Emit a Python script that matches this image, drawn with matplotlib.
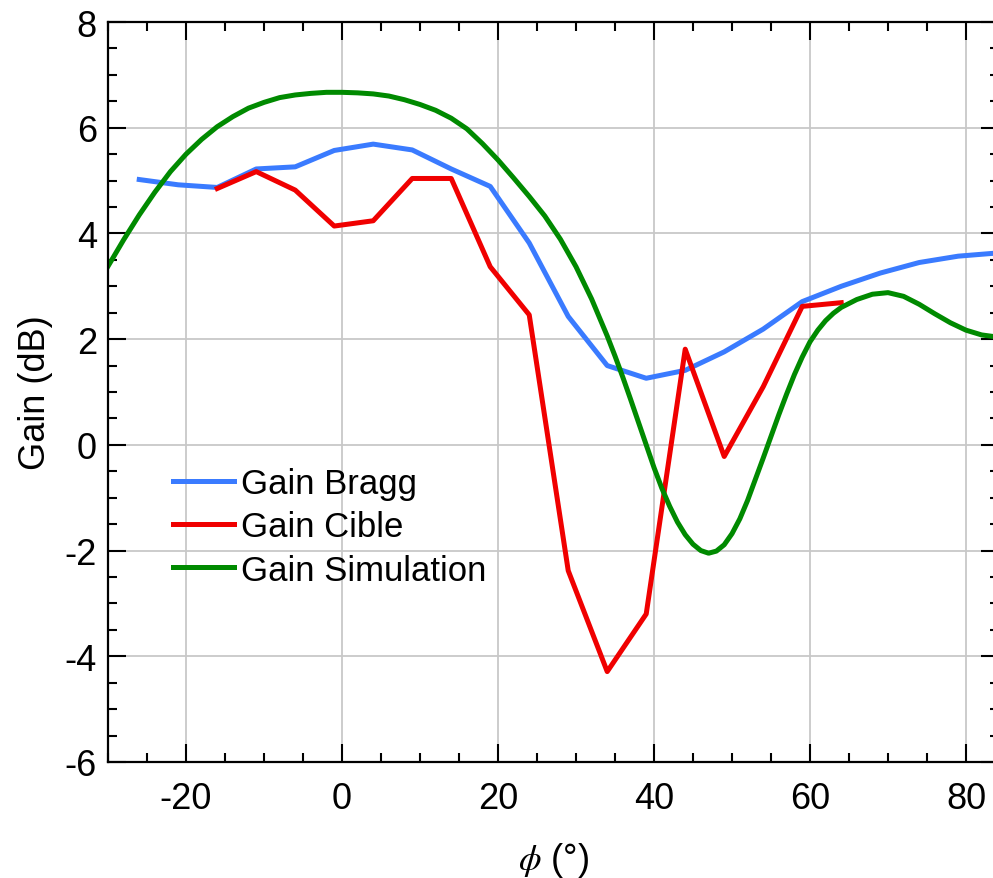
"""Gain vs angle phi: Bragg / Cible (mesure) et simulation."""

import matplotlib
matplotlib.use("Agg")
import matplotlib.pyplot as plt
from matplotlib.ticker import MultipleLocator

plt.rcParams["font.family"] = ["Liberation Sans", "DejaVu Sans"]
plt.rcParams["mathtext.fontset"] = "stix"
plt.rcParams["axes.unicode_minus"] = False  # "-20" avec un tiret simple

# ── données ──────────────────────────────────────────────────────────────────

phi_bragg = [-26, -21, -16, -11, -6, -1, 4, 9, 14, 19, 24, 29, 34, 39, 44,
             49, 54, 59, 64, 69, 74, 79, 84]
gain_bragg = [5.02, 4.92, 4.87, 5.22, 5.26, 5.57, 5.69, 5.58, 5.22, 4.89, 3.82,
              2.43, 1.50, 1.26, 1.41, 1.76, 2.19, 2.71, 3.00, 3.25, 3.45, 3.57,
              3.63]

phi_cible = [-16, -11, -6, -1, 4, 9, 14, 19, 24, 29, 34, 39, 44, 49, 54, 59, 64]
gain_cible = [4.85, 5.17, 4.82, 4.14, 4.24, 5.04, 5.04, 3.37, 2.46, -2.38, -4.29,
              -3.20, 1.81, -0.22, 1.10, 2.62, 2.69]

phi_sim = [-30, -28, -26, -24, -22, -20, -18, -16, -14, -12, -10, -8, -6, -4,
           -2, 0, 2, 4, 6, 8, 10, 12, 14, 16, 18, 20, 22, 24, 26, 28, 30, 32,
           34, 35, 36, 37, 38, 39, 40, 41, 42, 43, 44, 45, 46, 47, 48, 49, 50,
           51, 52, 53, 54, 55, 56, 57, 58, 59, 60, 61, 62, 63, 64, 66, 68, 70,
           72, 74, 76, 78, 80, 82, 84]
gain_sim = [3.38, 3.88, 4.35, 4.78, 5.17, 5.50, 5.78, 6.02, 6.21, 6.37, 6.48,
            6.57, 6.62, 6.65, 6.67, 6.67, 6.66, 6.64, 6.60, 6.53, 6.44, 6.33,
            6.18, 5.98, 5.70, 5.39, 5.05, 4.70, 4.33, 3.89, 3.37, 2.76,
            2.06, 1.68, 1.28, 0.86, 0.43, 0.00, -0.43, -0.82, -1.16, -1.46,
            -1.70, -1.88, -2.00, -2.05, -2.01, -1.89, -1.68,
            -1.40, -1.05, -0.65, -0.25, 0.16, 0.57, 0.96, 1.33, 1.66, 1.95,
            2.17, 2.35, 2.49, 2.60, 2.75, 2.85, 2.88,
            2.81, 2.66, 2.48, 2.31, 2.17, 2.08, 2.04]

C_BRAGG = "#3A7BFF"
C_CIBLE = "#F00000"
C_SIM = "#008A00"


def main():
    fig = plt.figure(figsize=(9.93, 8.79), dpi=100)
    # l'axe de droite tombe juste au bord de l'image
    ax = fig.add_axes([0.1088, 0.132, 0.897, 0.8418])

    lw = 3.6
    ax.plot(phi_bragg, gain_bragg, color=C_BRAGG, lw=lw, label="Gain Bragg")
    ax.plot(phi_cible, gain_cible, color=C_CIBLE, lw=lw, label="Gain Cible")
    ax.plot(phi_sim, gain_sim, color=C_SIM, lw=lw, label="Gain Simulation")

    ax.set_xlim(-30, 84.2)
    ax.set_ylim(-6, 8)
    ax.xaxis.set_major_locator(MultipleLocator(20))
    ax.xaxis.set_minor_locator(MultipleLocator(5))
    ax.yaxis.set_major_locator(MultipleLocator(2))
    ax.yaxis.set_minor_locator(MultipleLocator(0.5))

    ax.grid(True, which="major", color="#c8c8c8", lw=1.3)
    ax.set_axisbelow(True)

    ax.tick_params(which="both", direction="in", top=True, right=True,
                   width=1.5, labelsize=26)
    ax.tick_params(which="major", length=13)
    ax.tick_params(which="minor", length=6.5)
    ax.tick_params(axis="x", pad=14)
    ax.tick_params(axis="y", pad=8)
    for sp in ax.spines.values():
        sp.set_linewidth(1.6)

    ax.set_xlabel(r"$\phi$ (°)", fontsize=26)
    ax.set_ylabel("Gain (dB)", fontsize=26)
    ax.xaxis.set_label_coords(0.5, -0.106)
    ax.yaxis.set_label_coords(-0.062, 0.5)

    ax.legend(loc="upper left", bbox_to_anchor=(0.073, 0.399), frameon=False,
              fontsize=25, handlelength=1.75, handletextpad=0.2,
              labelspacing=0.3, borderpad=0, borderaxespad=0)

    fig.savefig("out.png", dpi=100)
    plt.close(fig)


if __name__ == "__main__":
    main()
